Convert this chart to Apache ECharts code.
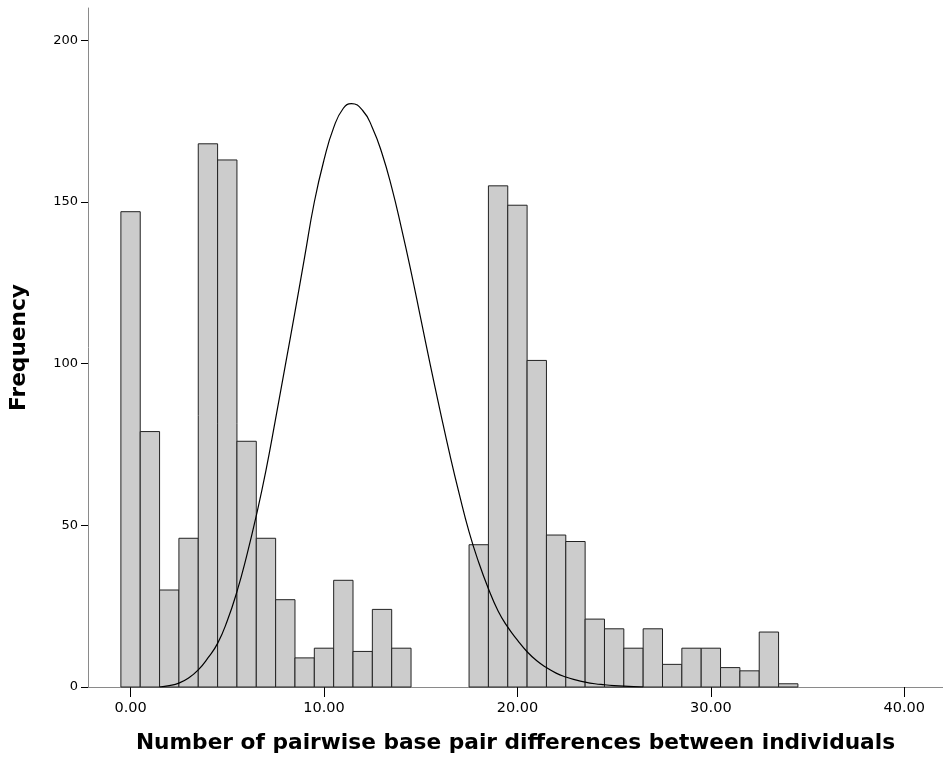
<!DOCTYPE html>
<html>
<head>
<meta charset="utf-8">
<style>
html,body{margin:0;padding:0;background:#fff;}
#chart{width:943px;height:761px;}
</style>
<script src="https://cdn.jsdelivr.net/npm/echarts@6/dist/echarts.min.js"></script>
</head>
<body>
<div id="chart"></div>
<script>
// Histogram bins (bin centres) and frequencies
const binCentres = [0,1,2,3,4,5,6,7,8,9,10,11,12,13,14,15,16,17,18,19,20,21,22,23,24,25,26,27,28,29,30,31,32,33,34];
const frequencies = [147,79,30,46,168,163,76,46,27,9,12,33,11,24,12,0,0,0,44,155,149,101,47,45,21,18,12,18,7,12,12,6,5,17,1];

// Overlaid curve, values every half unit
const curveX = [1.5, 2, 2.5, 3, 3.5, 4, 4.5, 5, 5.5, 6, 6.5, 7, 7.5, 8, 8.5, 9, 9.5, 10, 10.5, 11, 11.42,
                12, 12.5, 13, 13.5, 14, 14.5, 15, 15.5, 16, 16.5, 17, 17.5, 18, 18.5, 19, 19.5, 20, 20.5,
                21, 21.5, 22, 22.5, 23, 23.5, 24, 24.5, 25, 25.5, 26, 26.5];
const curveY = [0, 0.4, 1.2, 2.8, 5.3, 9, 13.5, 20.5, 29.5, 40.5, 53, 67, 83, 99.5, 116, 133, 150, 163, 173, 179, 180.4,
                178.3, 173, 165, 154.5, 142, 128.5, 114, 99.5, 85.5, 72, 59.5, 48, 38.5, 30.4, 23.5, 18.5, 14.5, 10.9,
                8.1, 6, 4.3, 3.1, 2.2, 1.5, 1.0, 0.7, 0.45, 0.25, 0.1, 0];

// Tick labels
const xTickValues = [0, 10, 20, 30, 40];
const yTickInterval = 50;

const xTitle = 'Number of pairwise base pair differences between individuals';
const yTitle = 'Frequency';

const histData = binCentres.map((c, i) => [c, frequencies[i]]);
const curveData = curveX.map((x, i) => [x, curveY[i]]);

const chart = echarts.init(document.getElementById('chart'), null, {renderer: 'canvas'});
const FONT = 'DejaVu Sans';
chart.setOption({
  animation: false,
  backgroundColor: '#ffffff',
  grid: {left: 87, right: 0, top: 8, bottom: 74, containLabel: false},
  xAxis: {
    type: 'value',
    min: -2.2,
    max: 42,
    name: xTitle,
    nameLocation: 'middle',
    nameGap: 45,
    nameTextStyle: {fontFamily: FONT, fontWeight: 'bold', fontSize: 21.7, color: '#000'},
    axisLine: {show: true, onZero: false, lineStyle: {color: '#8a8a8a', width: 1}},
    axisTick: {show: true, customValues: xTickValues, length: 10, inside: false, lineStyle: {color: '#000', width: 1}},
    axisLabel: {show: true, customValues: xTickValues, margin: 14, fontFamily: FONT, fontSize: 14.5, color: '#000',
      formatter: v => v.toFixed(2)},
    splitLine: {show: false}
  },
  yAxis: {
    type: 'value',
    min: 0,
    max: 210,
    interval: yTickInterval,
    name: yTitle,
    nameLocation: 'middle',
    nameGap: 58,
    nameTextStyle: {fontFamily: FONT, fontWeight: 'bold', fontSize: 21.7, color: '#000'},
    axisLine: {show: true, onZero: false, lineStyle: {color: '#8a8a8a', width: 1}},
    axisTick: {show: true, length: 7, inside: false, lineStyle: {color: '#000', width: 1}},
    axisLabel: {show: true, margin: 10, fontFamily: FONT, fontSize: 13, color: '#000',
      showMaxLabel: false},
    splitLine: {show: false}
  },
  series: [
    {
      type: 'custom',
      data: histData,
      z: 2,
      renderItem: function (params, api) {
        const x = api.value(0), y = api.value(1);
        if (!y) return null;
        const p0 = api.coord([x - 0.5, y]);
        const p1 = api.coord([x + 0.5, 0]);
        return {
          type: 'rect',
          shape: {x: p0[0], y: p0[1], width: p1[0] - p0[0], height: p1[1] - p0[1]},
          style: {fill: '#cccccc', stroke: '#222222', lineWidth: 1}
        };
      }
    },
    {
      type: 'line',
      data: curveData,
      z: 3,
      smooth: 0.5,
      showSymbol: false,
      symbol: 'none',
      lineStyle: {color: '#000', width: 1.2}
    }
  ]
});
</script>
</body>
</html>
